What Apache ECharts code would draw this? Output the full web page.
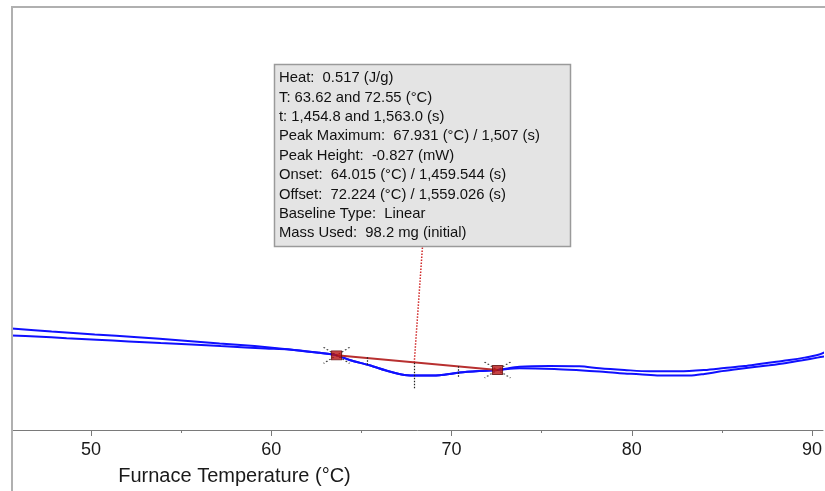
<!DOCTYPE html>
<html>
<head>
<meta charset="utf-8">
<script src="https://cdn.jsdelivr.net/npm/echarts@6/dist/echarts.min.js"></script>
<style>
html,body{margin:0;padding:0;background:#fff;}
#chart{width:825px;height:491px;}
</style>
</head>
<body>
<div id="chart"></div>
<script>
// ---- data (temperature in °C, heat flow in mW, arbitrary offset) ----
const upperT = [45.59,47.81,50.20,52.58,55.02,57.13,59.07,61.01,62.68,63.62,64.34,65.45,66.56,67.39,68.22,69.33,70.44,71.55,72.55,73.77,75.43,77.10,78.21,79.59,80.98,82.64,84.03,85.14,86.25,87.08,87.91,88.74,89.58,90.30,90.69];
const upperV = [6.528,6.336,6.144,5.971,5.76,5.568,5.395,5.184,4.96,4.80,4.499,4.16,3.757,3.539,3.501,3.52,3.693,3.795,3.859,4.064,4.115,4.096,3.968,3.859,3.776,3.776,3.859,3.987,4.115,4.243,4.371,4.499,4.653,4.819,4.992];
const lowerT = [45.59,46.93,48.64,50.31,52.08,53.86,55.58,57.19,58.57,59.68,61.01,62.68,63.62,64.34,65.45,66.56,67.39,68.22,69.33,70.44,71.55,72.55,73.77,75.71,77.10,78.21,79.32,80.43,81.53,83.20,84.03,84.86,85.81,86.69,87.64,88.58,89.47,90.30,90.69];
const lowerV = [6.08,6.016,5.907,5.805,5.696,5.587,5.504,5.395,5.312,5.248,5.184,4.96,4.80,4.499,4.16,3.757,3.539,3.501,3.52,3.693,3.795,3.859,3.968,3.923,3.84,3.757,3.648,3.584,3.501,3.501,3.603,3.757,3.904,4.032,4.16,4.307,4.48,4.653,4.736];
const baselineT = [63.62, 72.55];
const baselineV = [4.80, 3.859];
const peakT = 67.93;
const peakBaseV = 4.326;
const peakLowV = 2.688;
const leaderTopT = 68.39;
const leaderTopV = 11.84;
const limitMarksT = [65.34, 70.37];
const limitMarksTopV = [4.672, 4.096];
const limitMarksBotV = [4.16, 3.328];
const majorTicks = [50, 60, 70, 80, 90];
const minorTicks = [55, 65, 75, 85];
const infoLines = [
  'Heat:  0.517 (J/g)',
  'T: 63.62 and 72.55 (°C)',
  't: 1,454.8 and 1,563.0 (s)',
  'Peak Maximum:  67.931 (°C) / 1,507 (s)',
  'Peak Height:  -0.827 (mW)',
  'Onset:  64.015 (°C) / 1,459.544 (s)',
  'Offset:  72.224 (°C) / 1,559.026 (s)',
  'Baseline Type:  Linear',
  'Mass Used:  98.2 mg (initial)'
];

const zip = (a, b) => a.map((v, i) => [v, b[i]]);
const FONT = 'Liberation Sans, Arial, sans-serif';
const X_MIN = 45.61, X_MAX = 90.61;

const chart = echarts.init(document.getElementById('chart'), null, {renderer: 'canvas'});
const dotted = (c, w) => ({color: c, width: w || 1, type: [1.5, 1.5]});

const guideLines = [
  [{coord: [peakT, peakBaseV], lineStyle: dotted('#d02828', 1.5)}, {coord: [leaderTopT, leaderTopV]}],
  [{coord: [peakT, peakBaseV], lineStyle: dotted('#202020', 1.2)}, {coord: [peakT, peakLowV]}]
];
limitMarksT.forEach((t, i) => {
  guideLines.push([{coord: [t, limitMarksTopV[i]], lineStyle: dotted('#202020', 1.2)}, {coord: [t, limitMarksBotV[i]]}]);
});

chart.setOption({
  animation: false,
  backgroundColor: '#ffffff',
  grid: {left: 12, right: 0, top: 7, bottom: 59, containLabel: false},
  xAxis: [{
    type: 'value', min: X_MIN, max: X_MAX, position: 'bottom',
    axisLine: {lineStyle: {color: '#7a7a7a', width: 1}},
    axisTick: {customValues: majorTicks, length: 6, lineStyle: {color: '#7a7a7a'}},
    axisLabel: {customValues: majorTicks, fontSize: 18, color: '#1a1a1a', fontFamily: FONT, margin: 11},
    splitLine: {show: false},
    name: 'Furnace Temperature (°C)', nameLocation: 'middle', nameGap: 36,
    nameTextStyle: {fontSize: 20, color: '#1a1a1a', fontFamily: FONT, padding: [0, 366, 0, 0]}
  }, {
    type: 'value', min: X_MIN, max: X_MAX, position: 'bottom',
    axisLine: {show: false},
    axisTick: {customValues: minorTicks, length: 3, lineStyle: {color: '#7a7a7a'}},
    axisLabel: {show: false},
    splitLine: {show: false}
  }],
  yAxis: {type: 'value', min: 0, max: 27.2, show: false},
  series: [
    {type: 'line', name: 'upper', data: zip(upperT, upperV), smooth: 0.3, showSymbol: false,
     lineStyle: {color: '#1010ff', width: 2}, z: 2},
    {type: 'line', name: 'lower', data: zip(lowerT, lowerV), smooth: 0.3, showSymbol: false,
     lineStyle: {color: '#1010ff', width: 2}, z: 2},
    {type: 'line', name: 'baseline', data: zip(baselineT, baselineV), showSymbol: false,
     lineStyle: {color: '#b83030', width: 2}, z: 3,
     markLine: {silent: true, symbol: 'none', animation: false, label: {show: false}, data: guideLines}},
    {type: 'scatter', name: 'limitsX', data: zip(baselineT, baselineV), z: 4,
     symbol: 'path://M0,0L26,16M26,0L0,16', symbolSize: [26, 16],
     itemStyle: {color: 'none', borderColor: '#111', borderWidth: 1.3, borderType: [1.5, 2]}},
    {type: 'scatter', name: 'limits', data: zip(baselineT, baselineV), z: 5,
     symbol: 'rect', symbolSize: [10, 9],
     itemStyle: {color: '#b81414', borderColor: '#600a0a', borderWidth: 1}}
  ],
  graphic: [
    {type: 'line', shape: {x1: 12, y1: 6, x2: 12, y2: 491}, style: {stroke: '#b0b0b0', lineWidth: 2}, z: 100},
    {type: 'line', shape: {x1: 11, y1: 7, x2: 825, y2: 7}, style: {stroke: '#b0b0b0', lineWidth: 2}, z: 100},
    {type: 'rect', shape: {x: 274.5, y: 64.5, width: 296, height: 182},
     style: {fill: '#e4e4e4', stroke: '#9a9a9a', lineWidth: 1.5}, z: 100},
    {type: 'text', x: 279, y: 68.5, z: 101,
     style: {text: infoLines.join('\n'), font: '14.8px ' + FONT, fill: '#111', lineHeight: 19.4,
             textVerticalAlign: 'top', verticalAlign: 'top'}}
  ]
});
</script>
</body>
</html>
